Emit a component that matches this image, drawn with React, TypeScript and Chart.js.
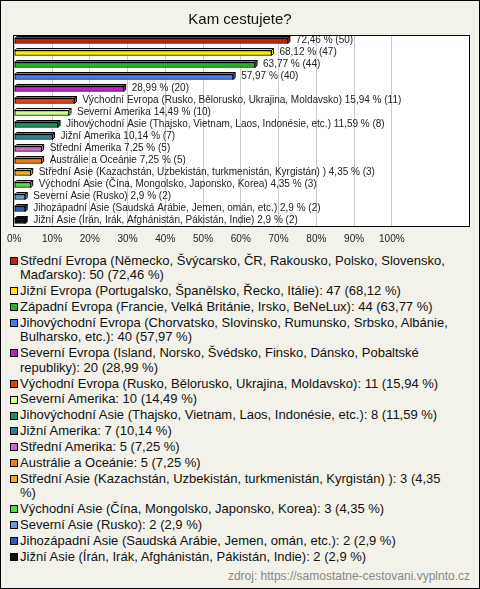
import React, { useEffect, useRef } from "react";
import { Chart, registerables } from "chart.js";

Chart.register(...registerables);

const title = "Kam cestujete?";
const categories = [
  "Střední Evropa (Německo, Švýcarsko, ČR, Rakousko, Polsko, Slovensko, Maďarsko)",
  "Jižní Evropa (Portugalsko, Španělsko, Řecko, Itálie)",
  "Západní Evropa (Francie, Velká Británie, Irsko, BeNeLux)",
  "Jihovýchodní Evropa (Chorvatsko, Slovinsko, Rumunsko, Srbsko, Albánie, Bulharsko, etc.)",
  "Severní Evropa (Island, Norsko, Švédsko, Finsko, Dánsko, Pobaltské republiky)",
  "Východní Evropa (Rusko, Bělorusko, Ukrajina, Moldavsko)",
  "Severní Amerika",
  "Jihovýchodní Asie (Thajsko, Vietnam, Laos, Indonésie, etc.)",
  "Jižní Amerika",
  "Střední Amerika",
  "Austrálie a Oceánie",
  "Střední Asie (Kazachstán, Uzbekistán, turkmenistán, Kyrgistán) )",
  "Východní Asie (Čína, Mongolsko, Japonsko, Korea)",
  "Severní Asie (Rusko)",
  "Jihozápadní Asie (Saudská Arábie, Jemen, omán, etc.)",
  "Jižní Asie (Írán, Irák, Afghánistán, Pákistán, Indie)",
];
const counts = [50, 47, 44, 40, 20, 11, 10, 8, 7, 5, 5, 3, 3, 2, 2, 2];
const percents = [72.46, 68.12, 63.77, 57.97, 28.99, 15.94, 14.49, 11.59, 10.14, 7.25, 7.25, 4.35, 4.35, 2.9, 2.9, 2.9];
const colors = [
  "#c8200e", "#ffe600", "#20b820", "#4a78ee", "#c020c8", "#e0400e",
  "#ccff88", "#18905a", "#2a8090", "#cc66cc", "#ee7a10", "#e8b010",
  "#50dd40", "#6a98dd", "#3355bb", "#111111",
];
const tickValues = [0, 10, 20, 30, 40, 50, 60, 70, 80, 90, 100];
const source = "zdroj: https://samostatne-cestovani.vyplnto.cz";

const fmt = (v: number) => String(v).replace(".", ",");

const FONT = '"Liberation Sans", Arial, sans-serif';

export default function App() {
  const ref = useRef<HTMLCanvasElement | null>(null);

  useEffect(() => {
    if (!ref.current) return;
    const depth = 2;
    const plotPlugin = {
      id: "plotDeco",
      beforeDraw(chart: any) {
        const { ctx, chartArea: a } = chart;
        ctx.save();
        ctx.fillStyle = "#ffffff";
        ctx.fillRect(a.left, a.top, a.right - a.left, a.bottom - a.top);
        ctx.restore();
      },
      afterDatasetsDraw(chart: any) {
        const { ctx, chartArea: a } = chart;
        const meta = chart.getDatasetMeta(0);
        ctx.save();
        meta.data.forEach((bar: any, i: number) => {
          const p = bar.getProps(["x", "y", "base", "height"], true);
          const top = p.y - p.height / 2;
          const bottom = p.y + p.height / 2;
          ctx.lineWidth = 1;
          ctx.strokeStyle = "#000";
          ctx.fillStyle = colors[i];
          ctx.beginPath();
          ctx.moveTo(p.base, top);
          ctx.lineTo(p.base + depth, top - depth);
          ctx.lineTo(p.x + depth, top - depth);
          ctx.lineTo(p.x, top);
          ctx.closePath();
          ctx.fill();
          ctx.stroke();
          ctx.beginPath();
          ctx.moveTo(p.x, top);
          ctx.lineTo(p.x + depth, top - depth);
          ctx.lineTo(p.x + depth, bottom - depth);
          ctx.lineTo(p.x, bottom);
          ctx.closePath();
          ctx.fill();
          ctx.stroke();
          ctx.font = "10px " + FONT;
          ctx.fillStyle = "#222";
          ctx.textBaseline = "middle";
          ctx.textAlign = "left";
          const tx = p.x + depth + 6;
          const full = `${categories[i]} ${fmt(percents[i])} % (${counts[i]})`;
          const short = `${fmt(percents[i])} % (${counts[i]})`;
          const avail = a.right - tx - 3;
          const text = ctx.measureText(full).width <= avail ? full : short;
          ctx.fillText(text, tx, p.y - 1);
        });
        ctx.strokeStyle = "#000";
        ctx.lineWidth = 1;
        ctx.strokeRect(
          Math.round(a.left) + 0.5,
          Math.round(a.top) + 0.5,
          Math.round(a.right - a.left) - 1,
          Math.round(a.bottom - a.top) - 1
        );
        ctx.restore();
      },
    };

    const chart = new Chart(ref.current, {
      type: "bar",
      data: {
        labels: categories,
        datasets: [
          {
            data: percents,
            backgroundColor: colors,
            borderColor: "#000",
            borderWidth: 1,
            borderSkipped: false,
            barThickness: 5,
          },
        ],
      },
      options: {
        indexAxis: "y",
        responsive: false,
        animation: false,
        layout: { padding: { left: 9, right: 9, top: 0, bottom: 0 } },
        plugins: {
          legend: { display: false },
          tooltip: { enabled: false },
          title: {
            display: true,
            text: title,
            color: "#111",
            font: { family: FONT, size: 15, weight: "normal" },
            padding: { top: 10, bottom: 6 },
          },
        },
        scales: {
          y: { type: "category", display: false },
          x: {
            type: "linear",
            min: -0.4,
            max: 120.7,
            afterBuildTicks: (scale: any) => {
              scale.ticks = tickValues.map((v) => ({ value: v }));
            },
            grid: { color: "#cccccc", drawTicks: false, tickLength: 0 },
            border: { display: false },
            ticks: {
              padding: 6,
              color: "#222",
              font: { family: FONT, size: 10 },
              callback: (v: any) => v + "%",
              autoSkip: false,
              maxRotation: 0,
            },
          },
        },
      } as any,
      plugins: [plotPlugin],
    });
    return () => chart.destroy();
  }, []);

  return (
    <div
      style={{
        position: "absolute",
        left: 0,
        top: 0,
        width: 480,
        height: 589,
        boxSizing: "border-box",
        border: "1px solid #000",
        background: "#f3f2ea",
        fontFamily: FONT,
        overflow: "hidden",
      }}
    >
      <canvas ref={ref} width={478} height={250} style={{ display: "block", width: 478, height: 250 }} />
      <div style={{ position: "absolute", left: 9, top: 252.8, width: 462 }}>
        {categories.map((c, i) => (
          <div key={i} style={{ display: "flex", alignItems: "flex-start", marginBottom: 1.5 }}>
            <div
              style={{
                width: 8,
                height: 8,
                boxSizing: "border-box",
                border: "1px solid #000",
                background: colors[i],
                marginTop: 3.2,
                marginRight: 2,
                flex: "0 0 auto",
              }}
            />
            <div style={{ width: 436, fontSize: 13, lineHeight: "14.4px", color: "#111" }}>
              {`${c}: ${counts[i]} (${fmt(percents[i])} %)`}
            </div>
          </div>
        ))}
      </div>
      <div
        style={{
          position: "absolute",
          right: 9,
          top: 568,
          fontSize: 12,
          lineHeight: "14px",
          color: "#888",
          whiteSpace: "nowrap",
        }}
      >
        {source}
      </div>
    </div>
  );
}
